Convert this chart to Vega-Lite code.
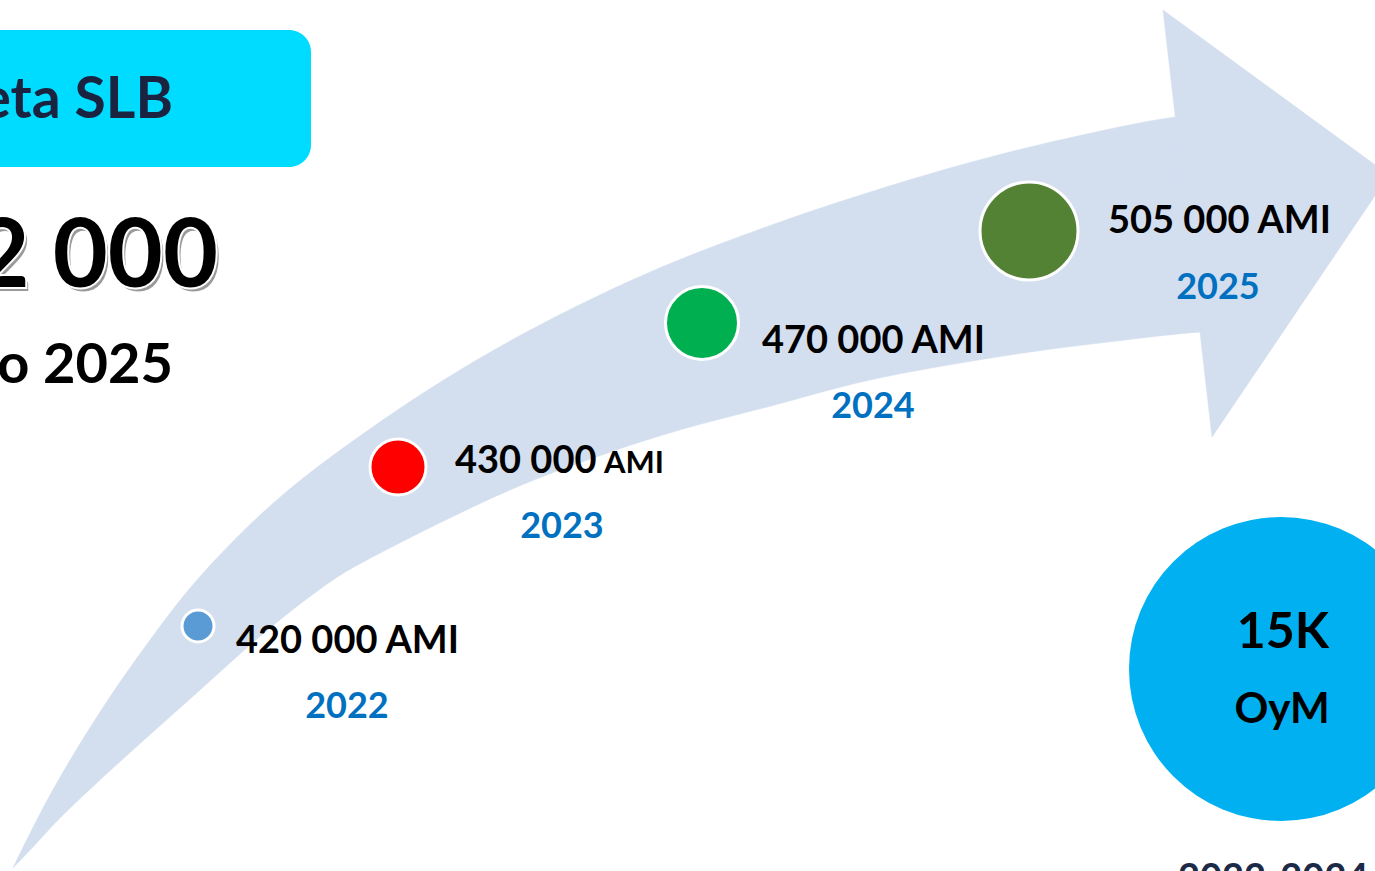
{
  "$schema": "https://vega.github.io/schema/vega-lite/v6.json",
  "width": 1375,
  "height": 871,
  "padding": 0,
  "autosize": {"type": "fit", "contains": "padding"},
  "background": "white",
  "config": {"view": {"stroke": null}},
  "datasets": {
    "body": [
      {"i": 0, "x": 13, "y": 868}, {"i": 1, "x": 50, "y": 795}, {"i": 2, "x": 100, "y": 712},
      {"i": 3, "x": 150, "y": 640}, {"i": 4, "x": 197, "y": 580}, {"i": 5, "x": 270, "y": 506},
      {"i": 6, "x": 350, "y": 443}, {"i": 7, "x": 480, "y": 358}, {"i": 8, "x": 632, "y": 280},
      {"i": 9, "x": 780, "y": 222}, {"i": 10, "x": 950, "y": 168}, {"i": 11, "x": 1060, "y": 140},
      {"i": 12, "x": 1175, "y": 117}, {"i": 13, "x": 1240, "y": 112}, {"i": 14, "x": 1240, "y": 330},
      {"i": 15, "x": 1200, "y": 332}, {"i": 16, "x": 1100, "y": 343},
      {"i": 17, "x": 1010, "y": 355}, {"i": 18, "x": 870, "y": 380}, {"i": 19, "x": 771, "y": 406},
      {"i": 20, "x": 673, "y": 432}, {"i": 21, "x": 602, "y": 455}, {"i": 22, "x": 510, "y": 490},
      {"i": 23, "x": 367, "y": 560}, {"i": 24, "x": 333, "y": 580}, {"i": 25, "x": 270, "y": 628},
      {"i": 26, "x": 200, "y": 690}, {"i": 27, "x": 100, "y": 780}, {"i": 28, "x": 60, "y": 818},
      {"i": 29, "x": 33, "y": 847}, {"i": 30, "x": 13, "y": 868}
    ],
    "head": [
      {"i": 0, "x": 1163, "y": 10}, {"i": 1, "x": 1389, "y": 175}, {"i": 2, "x": 1212, "y": 437}, {"i": 3, "x": 1163, "y": 10}
    ],
    "box": [{"x": -40, "x2": 311, "y": 30, "y2": 167}],
    "dots": [
      {"year": 2022, "x": 198, "y": 626, "s": 1024, "c": "#5b9bd5"},
      {"year": 2023, "x": 398, "y": 467, "s": 3136, "c": "#ff0000"},
      {"year": 2024, "x": 702, "y": 323, "s": 5329, "c": "#00b050"},
      {"year": 2025, "x": 1029, "y": 231, "s": 9604, "c": "#548235"}
    ],
    "bigcircle": [{"x": 1281, "y": 669, "s": 92416}],
    "leftText": [
      {"x": 236, "y": 642, "t": "420 000 AMI", "s": 38, "c": "#000000"},
      {"x": 455, "y": 462, "t": "430 000", "s": 38, "c": "#000000"},
      {"x": 604, "y": 464, "t": "AMI", "s": 31, "c": "#000000"},
      {"x": 762, "y": 342, "t": "470 000 AMI", "s": 38, "c": "#000000"},
      {"x": 1108, "y": 222, "t": "505 000 AMI", "s": 38, "c": "#000000"},
      {"x": 1178, "y": 880, "t": "2022-2024", "s": 38, "c": "#1c2a48"}
    ],
    "centerText": [
      {"x": 347, "y": 707, "t": "2022", "s": 36, "c": "#0070c0"},
      {"x": 562, "y": 527, "t": "2023", "s": 36, "c": "#0070c0"},
      {"x": 873, "y": 407, "t": "2024", "s": 36, "c": "#0070c0"},
      {"x": 1218, "y": 288, "t": "2025", "s": 36, "c": "#0070c0"},
      {"x": 1283, "y": 633, "t": "15K", "s": 50, "c": "#000000"},
      {"x": 1282, "y": 710, "t": "OyM", "s": 42, "c": "#000000"}
    ],
    "rightText": [
      {"x": 173, "y": 101, "t": "Meta SLB", "s": 57, "c": "#1a2440"},
      {"x": 173, "y": 366, "t": "o 2025", "s": 56, "c": "#000000"}
    ],
    "big": [{"x": 218, "y": 258, "t": "2 000"}]
  },
  "layer": [
    {
      "data": {"name": "body"},
      "mark": {"type": "line", "fill": "#d3deef", "stroke": "#d3deef", "strokeWidth": 0.5, "interpolate": "catmull-rom", "clip": true},
      "encoding": {
        "x": {"field": "x", "type": "quantitative", "scale": {"domain": [0, 1375], "nice": false, "zero": false}, "axis": null},
        "y": {"field": "y", "type": "quantitative", "scale": {"domain": [0, 871], "reverse": true, "nice": false, "zero": false}, "axis": null},
        "order": {"field": "i", "type": "quantitative"}
      }
    },
    {
      "data": {"name": "head"},
      "mark": {"type": "line", "fill": "#d3deef", "stroke": "#d3deef", "strokeWidth": 0.5, "interpolate": "linear", "clip": true},
      "encoding": {
        "x": {"field": "x", "type": "quantitative"},
        "y": {"field": "y", "type": "quantitative"},
        "order": {"field": "i", "type": "quantitative"}
      }
    },
    {
      "data": {"name": "box"},
      "mark": {"type": "rect", "fill": "#00dcff", "cornerRadius": 22, "clip": true},
      "encoding": {
        "x": {"field": "x", "type": "quantitative"},
        "x2": {"field": "x2"},
        "y": {"field": "y", "type": "quantitative"},
        "y2": {"field": "y2"}
      }
    },
    {
      "data": {"name": "bigcircle"},
      "mark": {"type": "point", "shape": "circle", "filled": true, "fill": "#00b0f0", "opacity": 1, "strokeWidth": 0, "clip": true},
      "encoding": {
        "x": {"field": "x", "type": "quantitative"},
        "y": {"field": "y", "type": "quantitative"},
        "size": {"field": "s", "type": "quantitative", "scale": null}
      }
    },
    {
      "data": {"name": "dots"},
      "mark": {"type": "point", "shape": "circle", "filled": true, "opacity": 1, "stroke": "white", "strokeWidth": 3, "clip": true},
      "encoding": {
        "x": {"field": "x", "type": "quantitative"},
        "y": {"field": "y", "type": "quantitative"},
        "size": {"field": "s", "type": "quantitative", "scale": null},
        "fill": {"field": "c", "type": "nominal", "scale": null}
      }
    },
    {
      "data": {"name": "leftText"},
      "mark": {"type": "text", "align": "left", "baseline": "middle", "font": "Lato", "fontWeight": "bold", "clip": true},
      "encoding": {
        "x": {"field": "x", "type": "quantitative"},
        "y": {"field": "y", "type": "quantitative"},
        "text": {"field": "t"},
        "size": {"field": "s", "type": "quantitative", "scale": null},
        "color": {"field": "c", "type": "nominal", "scale": null}
      }
    },
    {
      "data": {"name": "centerText"},
      "mark": {"type": "text", "align": "center", "baseline": "middle", "font": "Lato", "fontWeight": "bold", "clip": true},
      "encoding": {
        "x": {"field": "x", "type": "quantitative"},
        "y": {"field": "y", "type": "quantitative"},
        "text": {"field": "t"},
        "size": {"field": "s", "type": "quantitative", "scale": null},
        "color": {"field": "c", "type": "nominal", "scale": null}
      }
    },
    {
      "data": {"name": "rightText"},
      "mark": {"type": "text", "align": "right", "baseline": "middle", "font": "Lato", "fontWeight": "bold", "clip": true},
      "encoding": {
        "x": {"field": "x", "type": "quantitative"},
        "y": {"field": "y", "type": "quantitative"},
        "text": {"field": "t"},
        "size": {"field": "s", "type": "quantitative", "scale": null},
        "color": {"field": "c", "type": "nominal", "scale": null}
      }
    },
    {
      "data": {"name": "big"},
      "mark": {"type": "text", "align": "right", "baseline": "middle", "font": "Lato", "fontWeight": "bold", "fontSize": 95, "fill": "#9a9a9a", "dx": 3, "dy": 4, "clip": true},
      "encoding": {
        "x": {"field": "x", "type": "quantitative"},
        "y": {"field": "y", "type": "quantitative"},
        "text": {"field": "t"}
      }
    },
    {
      "data": {"name": "big"},
      "mark": {"type": "text", "align": "right", "baseline": "middle", "font": "Lato", "fontWeight": "bold", "fontSize": 95, "fill": "#ffffff", "stroke": "#ffffff", "strokeWidth": 4, "clip": true},
      "encoding": {
        "x": {"field": "x", "type": "quantitative"},
        "y": {"field": "y", "type": "quantitative"},
        "text": {"field": "t"}
      }
    },
    {
      "data": {"name": "big"},
      "mark": {"type": "text", "align": "right", "baseline": "middle", "font": "Lato", "fontWeight": "bold", "fontSize": 95, "fill": "#000000", "clip": true},
      "encoding": {
        "x": {"field": "x", "type": "quantitative"},
        "y": {"field": "y", "type": "quantitative"},
        "text": {"field": "t"}
      }
    }
  ]
}
